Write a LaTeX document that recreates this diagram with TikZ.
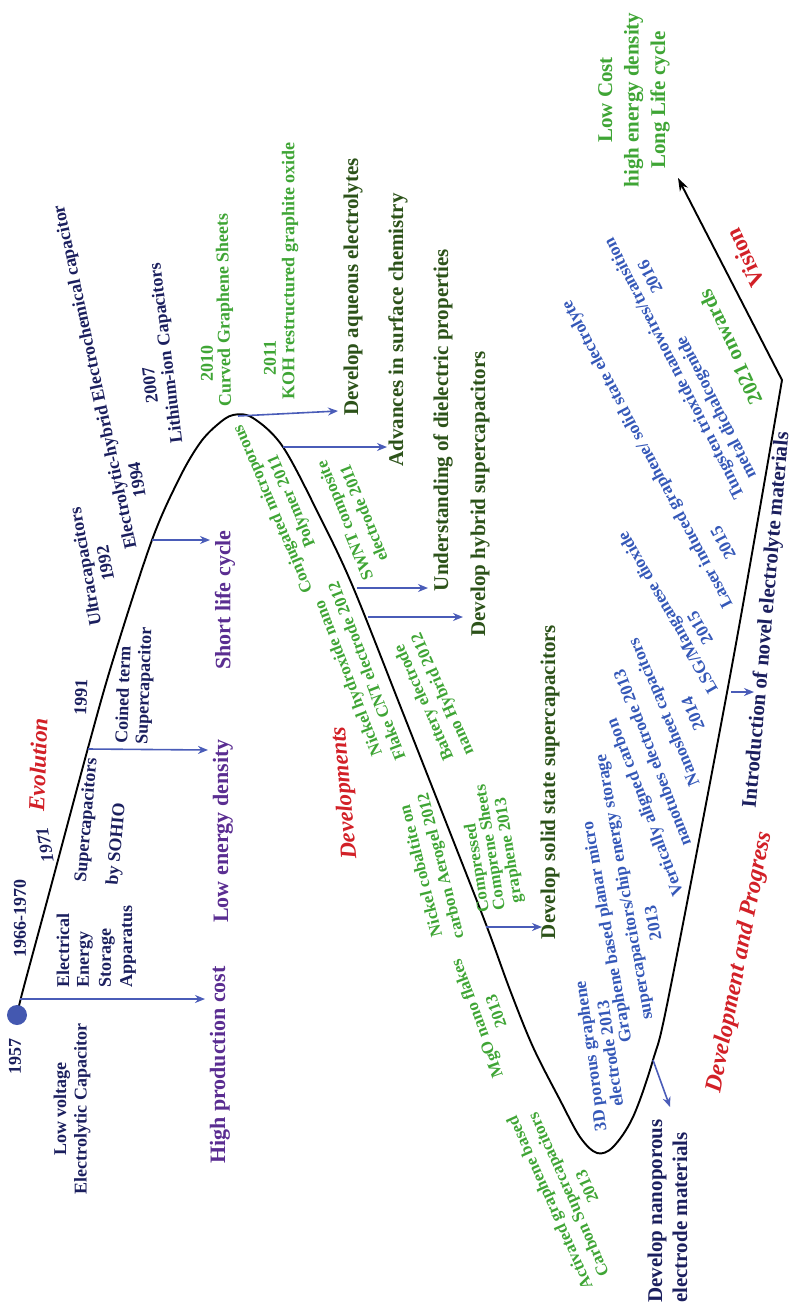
\documentclass[tikz,border=0pt]{standalone}
\usepackage{fontspec}
\setmainfont{Liberation Serif}
\usetikzlibrary{arrows.meta}
\definecolor{cNavy}{HTML}{1B1F5E}
\definecolor{cPurple}{HTML}{5A2D91}
\definecolor{cRed}{HTML}{D22027}
\definecolor{cGreen}{HTML}{3FA535}
\definecolor{cDGreen}{HTML}{2C5219}
\definecolor{cBlue}{HTML}{3558B8}
\definecolor{cArrow}{HTML}{4A5CB8}
\definecolor{cDot}{HTML}{4458B0}
\begin{document}
\begin{tikzpicture}[x=1pt,y=-1pt,
  lbl/.style={inner sep=0pt, align=center},
  tnavy/.style={lbl, text=cNavy, font=\bfseries\fontsize{18}{20.5}\selectfont},
  tpurple/.style={lbl, text=cPurple, font=\bfseries\fontsize{22}{26}\selectfont},
  tred/.style={lbl, text=cRed, font=\bfseries\itshape\fontsize{23}{27}\selectfont},
  tgreen/.style={lbl, text=cGreen, font=\bfseries\fontsize{17}{20.5}\selectfont},
  tbgreen/.style={lbl, text=cGreen, font=\bfseries\fontsize{18}{21}\selectfont},
  tdgreen/.style={lbl, text=cDGreen, font=\bfseries\fontsize{21}{25}\selectfont},
  tblue/.style={lbl, text=cBlue, font=\bfseries\fontsize{17.5}{20}\selectfont},
  barrow/.style={draw=cArrow, line width=1.6pt, -{Stealth[length=10pt,width=8pt]}},
]
\useasboundingbox (0,0) rectangle (799,1309);

% ---------- main curve ----------
\coordinate (vtx) at (782,380);
\coordinate (tip) at (678,178);
\draw[line width=1.9pt, line join=miter, -{Stealth[length=13pt,width=9pt]}]
  plot[smooth, tension=0.55] coordinates {(17,1015) (23,990) (50,890) (88,748) (113,660) (152,540) (180,477) (200,443) (217,425) (233,415) (253,418) (283,447) (320,517) (353,587) (403,713) (453,840) (487,927) (510,990) (533,1047) (560,1100) (580,1137) (597,1153) (613,1147) (633,1117) (653,1060) (670,990) (733,660) (vtx)}
  -- (tip);
\node[circle, fill=cDot, minimum size=20pt, inner sep=0pt] (dot) at (17,1015) {};

% ---------- blue arrows ----------
\coordinate (s1) at (20,999);   \coordinate (e1) at (205,999);
\coordinate (s2) at (88,749);   \coordinate (e2) at (208,750);
\coordinate (s3) at (152,540);  \coordinate (e3) at (210,540);
\coordinate (s4) at (238,416);  \coordinate (e4) at (338,411);
\coordinate (s5) at (283,447);  \coordinate (e5) at (387,447);
\coordinate (s6) at (357,588);  \coordinate (e6) at (428,588);
\coordinate (s7) at (368,617);  \coordinate (e7) at (463,617);
\coordinate (s8) at (486,927);  \coordinate (e8) at (542,927);
\coordinate (s9) at (653,1060); \coordinate (e9) at (670,1107);
\coordinate (s10) at (731,692); \coordinate (e10) at (754,692);
\foreach \i in {1,...,10} { \draw[barrow] (s\i) -- (e\i); }

% ---------- navy timeline texts ----------
\node[tnavy, rotate=90] (t1957) at (15,1056) {1957};
\node[tnavy, rotate=90] (tlowv) at (72,1109) {Low voltage\\Electrolytic Capacitor};
\node[tnavy, rotate=90] (t6670) at (20,918) {1966-1970};
\node[tnavy, rotate=90, anchor=west] (tee1) at (63,988) {Electrical};
\node[tnavy, rotate=90, anchor=west] (tee2) at (85,988) {Energy};
\node[tnavy, rotate=90, anchor=west] (tee3) at (107,988) {Storage};
\node[tnavy, rotate=90, anchor=west] (tee4) at (128,988) {Apparatus};
\node[tnavy, rotate=100, font=\bfseries\itshape\fontsize{18}{20.5}\selectfont] (t1971) at (45,845) {1971};
\node[tnavy, rotate=85] (tsup1) at (87,820) {Supercapacitors};
\node[tnavy, rotate=85] (tsup2) at (117,844) {by SOHIO};
\node[tnavy, rotate=88] (t1991) at (81,697) {1991};
\node[tnavy, rotate=88, anchor=west] (tco1) at (121,743) {Coined term};
\node[tnavy, rotate=88, anchor=west] (tco2) at (143,745) {Supercapacitor};
\node[tnavy, rotate=100] (tultra) at (95,565) {Ultracapacitors\\1992};
\node[tnavy, rotate=102] (telec) at (96,377) {Electrolytic-hybrid Electrochemical capacitor};
\node[tnavy, rotate=100] (t1994) at (137,480) {1994};
\node[tnavy, rotate=97] (t2007) at (150,385) {2007};
\node[tnavy, rotate=97] (tli) at (167,353) {Lithium-ion Capacitors};
\node[tnavy, rotate=90, anchor=west, font=\bfseries\fontsize{21}{25}\selectfont] (tnano1) at (657,1303) {Develop nanoporous};
\node[tnavy, rotate=90, anchor=west, font=\bfseries\fontsize{21}{25}\selectfont] (tnano2) at (680,1303) {electrode materials};
\node[tnavy, rotate=85, font=\bfseries\fontsize{21}{25}\selectfont] (tintro) at (767,620) {Introduction of novel electrolyte materials};

% ---------- purple ----------
\node[tpurple, rotate=90] (thigh) at (220,1065) {High production cost};
\node[tpurple, rotate=90] (tlowe) at (223,831) {Low energy density};
\node[tpurple, rotate=90] (tshort) at (225,600) {Short life cycle};

% ---------- red headings ----------
\node[tred, rotate=88] (hevo) at (38,765) {Evolution};
\node[tred, rotate=95] (hdev) at (345,793) {Developments};
\node[tred, rotate=79, font=\bfseries\itshape\fontsize{24}{28}\selectfont] (hdp) at (740,962) {Development and Progress};
\node[tred, rotate=115, font=\bfseries\fontsize{23}{27}\selectfont] (hvis) at (745,258) {Vision};

% ---------- green ----------
\node[tbgreen, rotate=90] (g2010) at (207,363) {2010};
\node[tbgreen, rotate=91] (gcurv) at (225,310) {Curved Graphene Sheets};
\node[tbgreen, rotate=90] (g2011) at (270,358) {2011};
\node[tbgreen, rotate=90] (gkoh) at (290,271) {KOH restructured graphite oxide};
\node[tgreen, rotate=113] (gconj) at (283,505) {Conjugated microporous\\Polymer 2011};
\node[tgreen, rotate=112] (gswnt) at (354,517) {SWNT composite\\electrode 2011};
\node[tgreen, rotate=111] (gnick) at (357,675) {Nickel hydroxide nano\\Flake CNT electrode 2012};
\node[tgreen, rotate=114] (gbatt) at (434,698) {Battery electrode\\nano Hybrid 2012};
\node[tgreen, rotate=104] (gcob) at (432,868) {Nickel cobaltite on\\carbon Aerogel 2012};
\node[tgreen, rotate=99, anchor=west] (gcomp1) at (485,912) {Compressed};
\node[tgreen, rotate=99, anchor=west] (gcomp2) at (501,910) {Comprene Sheets};
\node[tgreen, rotate=99, anchor=west] (gcomp3) at (518,903) {graphene 2013};
\node[tgreen, rotate=110] (gmgo) at (486,1015) {MgO nano flakes\\2013};
\node[tgreen, rotate=114] (gact) at (568,1195) {Activated graphene based\\Carbon Supercapacitors\\2013};
\node[tgreen, rotate=115, font=\bfseries\fontsize{21}{25}\selectfont] (g2021) at (730,347) {2021 onwards};
\node[tgreen, rotate=90, font=\bfseries\fontsize{21}{26.5}\selectfont] (gvis) at (634,100) {Low Cost\\high energy density\\Long Life cycle};

% ---------- dark green ----------
\node[tdgreen, rotate=90] (daq) at (353,287) {Develop aqueous electrolytes};
\node[tdgreen, rotate=90] (dadv) at (398,330) {Advances in surface chemistry};
\node[tdgreen, rotate=90] (dund) at (443,420) {Understanding of dielectric properties};
\node[tdgreen, rotate=90] (dhyb) at (480,494) {Develop hybrid supercapacitors};
\node[tdgreen, rotate=90] (dsol) at (550,782) {Develop solid state supercapacitors};

% ---------- blue ----------
\node[tblue, rotate=98] (b3d) at (600,1055) {3D porous graphene\\electrode 2013};
\node[tblue, rotate=100] (bgr1) at (608,932) {Graphene based planar micro};
\node[tblue, rotate=100] (bgr2) at (625,887) {supercapacitors/chip energy storage};
\node[tblue, rotate=100] (bgr3) at (653,923) {2013};
\node[tblue, rotate=111] (bva1) at (646,807) {Vertically aligned carbon};
\node[tblue, rotate=111] (bva2) at (652,758) {nanotubes electrode 2013};
\node[tblue, rotate=113] (bns1) at (665,712) {Nanosheet capacitors};
\node[tblue, rotate=113] (bns2) at (693,714) {2014};
\node[tblue, rotate=120] (blsg1) at (669,612) {LSG/Manganese dioxide};
\node[tblue, rotate=120] (blsg2) at (700,628) {2015};
\node[tblue, rotate=118] (blas1) at (648,454) {Laser induced graphene/ solid state electrolyte};
\node[tblue, rotate=118] (blas2) at (723,543) {2015};
\node[tblue, rotate=117] (btun1) at (675,368) {Tungsten trioxide nanowires/transition};
\node[tblue, rotate=117] (btun2) at (717,407) {metal dichalcogenide};
\node[tblue, rotate=117] (btun3) at (650,277) {2016};
\end{tikzpicture}
\end{document}
